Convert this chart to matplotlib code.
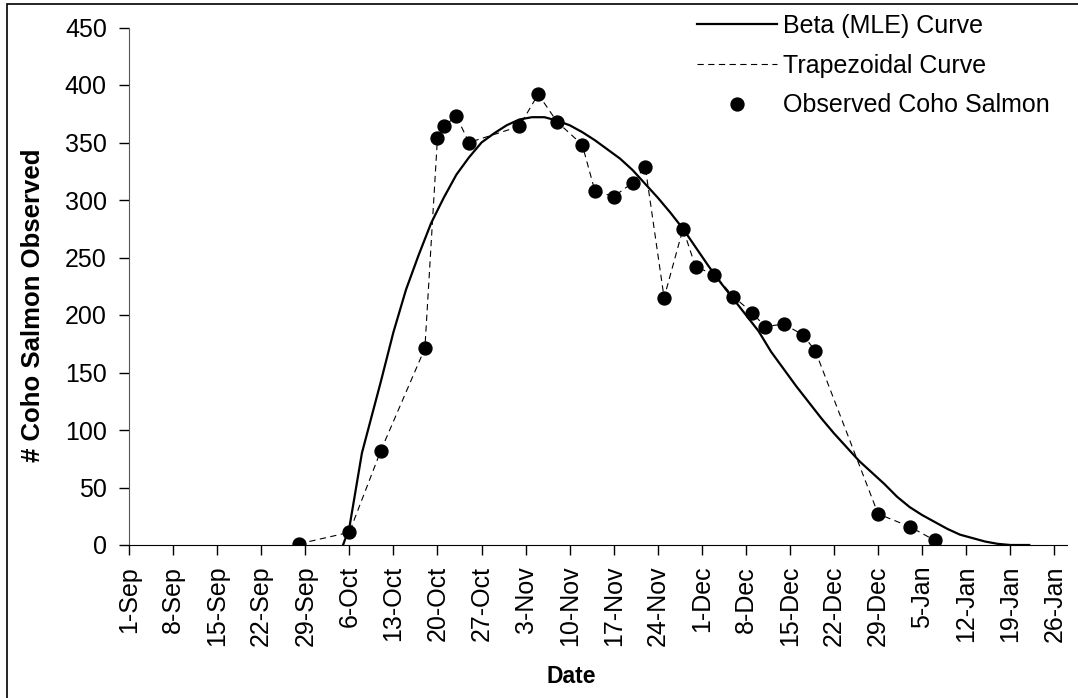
import matplotlib
matplotlib.use('Agg')
import matplotlib.pyplot as plt
from matplotlib.patches import Rectangle
import pandas as pd

plt.rcParams['font.family'] = ['Liberation Sans', 'DejaVu Sans']
plt.rcParams['lines.scale_dashes'] = False

# observed coho counts (date, count)
obs_dates = ['2005-09-28', '2005-10-06', '2005-10-11', '2005-10-18', '2005-10-20',
             '2005-10-21', '2005-10-23', '2005-10-25', '2005-11-02', '2005-11-05',
             '2005-11-08', '2005-11-12', '2005-11-14', '2005-11-17', '2005-11-20',
             '2005-11-22', '2005-11-25', '2005-11-28', '2005-11-30', '2005-12-03',
             '2005-12-06', '2005-12-09', '2005-12-11', '2005-12-14', '2005-12-17',
             '2005-12-19', '2005-12-29', '2006-01-03', '2006-01-07']
obs_counts = [1, 11, 82, 171, 354, 364, 373, 350, 364, 392,
              368, 348, 308, 303, 315, 329, 215, 275, 242, 235,
              216, 202, 190, 192, 183, 169, 27, 16, 4]

# beta (MLE) curve, days after 1-Sep
start = pd.Timestamp('2005-09-01')
beta_days = [34, 35, 37, 40, 42, 44, 46, 48, 50, 52, 54, 56, 58, 60, 62, 64, 66, 68,
             70, 72, 74, 76, 78, 80, 82, 84, 86, 88, 90, 92, 94, 96, 98, 100, 102,
             104, 106, 108, 110, 112, 114, 116, 118, 120, 122, 124, 126, 128, 130,
             132, 134, 136, 138, 140, 143]
beta_vals = [0, 15, 80, 142, 185, 222, 252, 280, 302, 322, 337, 350, 358, 365, 370,
             372, 372, 369, 365, 359, 352, 344, 336, 326, 314, 302, 289, 275, 259,
             243, 228, 214, 200, 186, 168, 153, 138, 124, 110, 97, 85, 73, 63, 53,
             42, 33, 26, 20, 14, 9, 6, 3, 1, 0, 0]

tick_labels = ['1-Sep', '8-Sep', '15-Sep', '22-Sep', '29-Sep', '6-Oct', '13-Oct',
               '20-Oct', '27-Oct', '3-Nov', '10-Nov', '17-Nov', '24-Nov', '1-Dec',
               '8-Dec', '15-Dec', '22-Dec', '29-Dec', '5-Jan', '12-Jan', '19-Jan',
               '26-Jan']

obs_x = pd.to_datetime(obs_dates)
beta_x = start + pd.to_timedelta(beta_days, unit='D')
tick_x = pd.date_range(start, periods=len(tick_labels), freq='7D')

fig = plt.figure(figsize=(10.78, 6.98), dpi=100)
ax = fig.add_axes([129 / 1078, 1 - 545 / 698, 938 / 1078, 517.5 / 698])

ax.plot(beta_x, beta_vals, '-', color='black', lw=1.6, label='Beta (MLE) Curve')
ax.plot(obs_x, obs_counts, color='black', lw=0.8, dashes=(4.5, 3.2),
        label='Trapezoidal Curve')
ax.plot(obs_x, obs_counts, 'o', color='black', ms=9.3, ls='none',
        label='Observed Coho Salmon')

ax.set_xlim(start, start + pd.Timedelta(days=149))
ax.set_ylim(0, 450)
ax.set_yticks(range(0, 451, 50))
ax.set_xticks(tick_x)
ax.set_xticklabels(tick_labels, rotation=90, va='top', ha='center')

ax.spines['top'].set_visible(False)
ax.spines['right'].set_visible(False)
ax.spines['left'].set_color('#555555')
ax.tick_params(axis='y', direction='out', length=7, width=1, labelsize=18, pad=9)
ax.tick_params(axis='x', direction='out', length=7, width=1, labelsize=18, pad=8)

ax.set_xlabel('Date', fontsize=16.5, fontweight='bold')
ax.xaxis.label.set_va('center')
ax.xaxis.set_label_coords((571 - 129) / 938, -0.255)
ax.set_ylabel('# Coho Salmon Observed', fontsize=18.5, fontweight='bold')
ax.yaxis.label.set_va('center')
ax.yaxis.set_label_coords(-0.1023, 0.464)

ax.legend(loc='upper left', bbox_to_anchor=(697 / 1078, 1 - 14 / 698),
          bbox_transform=fig.transFigure, frameon=False, fontsize=18,
          borderpad=0, borderaxespad=0, handlelength=3.2, handletextpad=0.25,
          labelspacing=0.63)

# outer chart border
fig.patches.append(Rectangle((7 / 1078, -0.05), 1.1, 1.05 - 4 / 698,
                             transform=fig.transFigure, fill=False,
                             edgecolor='black', lw=1.2))

fig.savefig('out.png', dpi=100)
